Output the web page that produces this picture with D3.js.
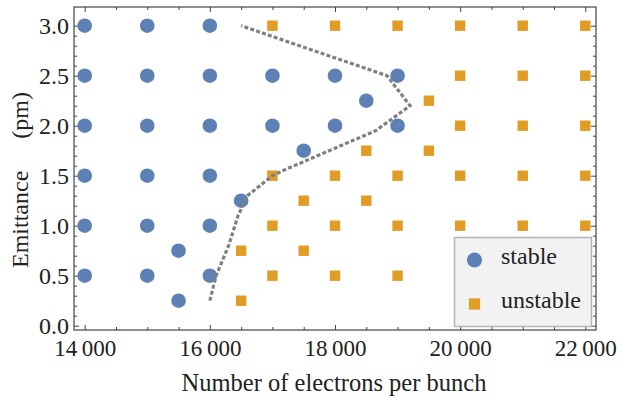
<!DOCTYPE html>
<html><head><meta charset="utf-8">
<script src="https://cdn.jsdelivr.net/npm/d3@7"></script>
<style>body{margin:0;background:#fff}svg{display:block}text{font-family:"Liberation Serif","Times New Roman",serif;fill:#222}</style>
</head><body><svg id="c" width="621" height="398"></svg>
<script>
const stableX = [14000,15000,16000, 14000,15000,16000,17000,18000,19000, 18500, 14000,15000,16000,17000,18000,19000, 17500, 14000,15000,16000, 16500, 14000,15000,16000, 15500, 14000,15000,16000, 15500];
const stableY = [3,3,3, 2.5,2.5,2.5,2.5,2.5,2.5, 2.25, 2,2,2,2,2,2, 1.75, 1.5,1.5,1.5, 1.25, 1,1,1, 0.75, 0.5,0.5,0.5, 0.25];
const unstableX = [17000,18000,19000,20000,21000,22000, 20000,21000,22000, 19500, 20000,21000,22000, 18500,19500, 17000,18000,19000,20000,21000,22000, 17500,18500, 17000,18000,19000,20000,21000,22000, 16500,17500, 17000,18000,19000, 16500];
const unstableY = [3,3,3,3,3,3, 2.5,2.5,2.5, 2.25, 2,2,2, 1.75,1.75, 1.5,1.5,1.5,1.5,1.5,1.5, 1.25,1.25, 1,1,1,1,1,1, 0.75,0.75, 0.5,0.5,0.5, 0.25];
const boundaryX = [16000,16100,16300,16450,16600,16800,17000,17200,18650,19200,18830,16500];
const boundaryY = [0.25,0.5,0.8,1.1,1.3,1.4,1.5,1.56,1.95,2.2,2.5,3.0];
const xTicks = [14000,16000,18000,20000,22000];
const yTicks = [0,0.5,1,1.5,2,2.5,3];
const seriesNames = ["stable","unstable"];
const colors = ["#5E81B5","#E19C24"];

const svg = d3.select("#c");
const L=74, R=596, T=7, B=330;
const x = d3.scaleLinear().domain([13829,22171]).range([L,R]);
const y = d3.scaleLinear().domain([-0.043,3.187]).range([B,T]);
const fmt = d => d3.format(",")(d).replace(",", "\u2009");

const xMinor = d3.range(14000,22001,500).filter(v=>!xTicks.includes(v));
const yMinor = d3.range(0,31,1).map(v=>v/10).filter(v=>!yTicks.includes(v));

const g = svg.append("g");
const ax = [
  [d3.axisBottom(x).tickValues(xTicks).tickFormat(fmt).tickSize(-5).tickPadding(10), `translate(0,${B})`, 23],
  [d3.axisBottom(x).tickValues(xMinor).tickFormat("").tickSize(-3), `translate(0,${B})`, 0],
  [d3.axisTop(x).tickValues(xTicks).tickFormat("").tickSize(-5), `translate(0,${T})`, 0],
  [d3.axisTop(x).tickValues(xMinor).tickFormat("").tickSize(-3), `translate(0,${T})`, 0],
  [d3.axisLeft(y).tickValues(yTicks).tickFormat(d3.format(".1f")).tickSize(-5).tickPadding(5), `translate(${L},0)`, 24],
  [d3.axisLeft(y).tickValues(yMinor).tickFormat("").tickSize(-3), `translate(${L},0)`, 0],
  [d3.axisRight(y).tickValues(yTicks).tickFormat("").tickSize(-5), `translate(${R},0)`, 0],
  [d3.axisRight(y).tickValues(yMinor).tickFormat("").tickSize(-3), `translate(${R},0)`, 0]
];
ax.forEach(([a,t,fs])=>{
  const gg = g.append("g").attr("transform",t).call(a);
  gg.select(".domain").remove();
  gg.selectAll("line").attr("stroke","#444").attr("stroke-width",1);
  if (fs) gg.selectAll("text").attr("font-size",fs).attr("fill","#222");
});
svg.append("rect").attr("x",L).attr("y",T).attr("width",R-L).attr("height",B-T)
  .attr("fill","none").attr("stroke","#444").attr("stroke-width",1.2);

svg.append("g").selectAll("circle").data(stableX).join("circle")
  .attr("cx",(d)=>x(d)).attr("cy",(d,i)=>y(stableY[i])).attr("r",7.3).attr("fill",colors[0]);
const s = 10.4;
svg.append("g").selectAll("rect").data(unstableX).join("rect")
  .attr("x",d=>x(d)-s/2).attr("y",(d,i)=>y(unstableY[i])-s/2).attr("width",s).attr("height",s).attr("fill",colors[1]);

const line = d3.line().x(d=>x(d[0])).y(d=>y(d[1]));
svg.append("path").datum(boundaryX.map((v,i)=>[v,boundaryY[i]])).attr("d",line)
  .attr("fill","none").attr("stroke","#808080").attr("stroke-width",3.2).attr("stroke-dasharray","4,2.2");

svg.append("text").attr("x",(L+R)/2 - 1).attr("y",391).attr("text-anchor","middle").attr("font-size",24.5)
  .text("Number of electrons per bunch");
svg.append("text").attr("transform","translate(28,268) rotate(-90)").attr("text-anchor","start").attr("font-size",24)
  .text("Emittance");
svg.append("text").attr("transform","translate(28,92) rotate(-90)").attr("text-anchor","end").attr("font-size",24)
  .text("(pm)");

const lg = svg.append("g");
lg.append("rect").attr("x",454.5).attr("y",237.5).attr("width",137).attr("height",89)
  .attr("fill","#f2f2f2").attr("stroke","#b5b5b5").attr("stroke-width",1.5);
lg.append("circle").attr("cx",474.5).attr("cy",260).attr("r",7.6).attr("fill",colors[0]);
lg.append("rect").attr("x",474.5-5.6).attr("y",304-5.6).attr("width",11.2).attr("height",11.2).attr("fill",colors[1]);
lg.append("text").attr("x",501).attr("y",263.5).attr("font-size",24).text(seriesNames[0]);
lg.append("text").attr("x",501).attr("y",307.5).attr("font-size",24).text(seriesNames[1]);
</script></body></html>
